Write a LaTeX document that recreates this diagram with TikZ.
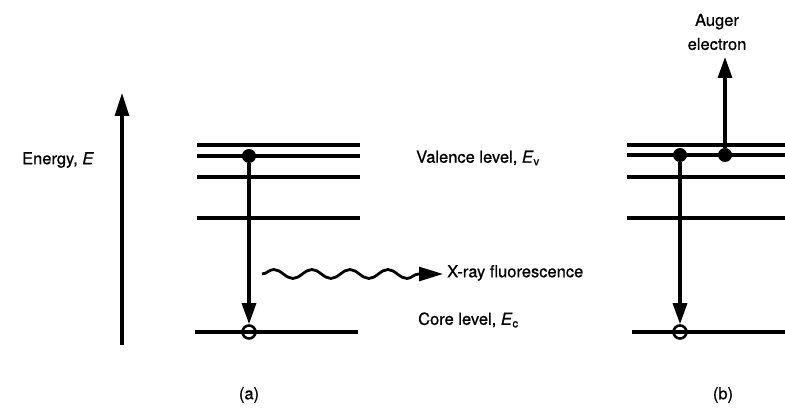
\documentclass[tikz,border=0pt]{standalone}
\usepackage{fontspec}
\setmainfont{TeX Gyre Heros}[FakeBold=0.7]
\usetikzlibrary{arrows.meta,decorations.pathmorphing}
\begin{document}
\begin{tikzpicture}[x=1pt,y=-1pt,
  level/.style={line width=3.2pt},
  trans/.style={line width=3.2pt,-{Triangle[length=21pt,width=14pt]}},
  dot/.style={circle,fill=black,inner sep=0pt,minimum size=14pt},
  hole/.style={circle,draw=black,line width=2.6pt,inner sep=0pt,minimum size=13pt},
  lbl/.style={font=\fontsize{16.5}{24}\selectfont,inner sep=0pt},
  wave/.style={line width=2.8pt,decorate,decoration={snake,amplitude=4.5pt,segment length=38pt}}]
\useasboundingbox (0,0) rectangle (785,419);
% energy axis
\coordinate (e0) at (122,345);
\coordinate (e1) at (122,93);
\draw[line width=3.2pt,-{Triangle[length=23pt,width=14pt]}] (e0) -- (e1);
\node[lbl] (energy) at (58,160) {Energy, \textit{E}};
% panel (a) levels
\draw[level] (197,145) coordinate (a1l) -- (360,145) coordinate (a1r);
\draw[level] (197,156) coordinate (a2l) -- (360,156) coordinate (a2r);
\draw[level] (197,177) coordinate (a3l) -- (360,177) coordinate (a3r);
\draw[level] (197,218) coordinate (a4l) -- (360,218) coordinate (a4r);
\draw[level] (195,332) coordinate (acl) -- (358,332) coordinate (acr);
\node[dot] (adot) at (249,156) {};
\node[hole] (ahole) at (249,332) {};
\draw[trans] (adot) -- (ahole);
% x-ray
\coordinate (w0) at (262,274);
\coordinate (w1) at (420,274);
\coordinate (w2) at (443,274);
\draw[wave] (w0) -- (w1);
\draw[line width=2.8pt,-{Triangle[length=24pt,width=14pt]}] (w1) -- (w2);
\node[lbl,anchor=west] (xray) at (447,273) {X-ray fluorescence};
\node[lbl,anchor=west] (val) at (416,158) {Valence level, \textit{E}\textsubscript{v}};
\node[lbl,anchor=west] (core) at (418,320) {Core level, \textit{E}\textsubscript{c}};
% panel (b)
\draw[level] (627,145) coordinate (b1l) -- (785,145) coordinate (b1r);
\draw[level] (627,155) coordinate (b2l) -- (785,155) coordinate (b2r);
\draw[level] (627,177) coordinate (b3l) -- (785,177) coordinate (b3r);
\draw[level] (627,218) coordinate (b4l) -- (785,218) coordinate (b4r);
\draw[level] (632,332) coordinate (bcl) -- (785,332) coordinate (bcr);
\node[dot] (bdot) at (680,155) {};
\node[dot] (bdot2) at (725,155) {};
\node[hole] (bhole) at (680,332) {};
\draw[trans] (bdot) -- (bhole);
\coordinate (aug) at (725,57);
\draw[trans] (bdot2) -- (aug);
\node[lbl,align=center] (auger) at (717,32) {Auger\\electron};
\node[lbl] (capa) at (249,395) {(a)};
\node[lbl] (capb) at (723,395) {(b)};
\end{tikzpicture}
\end{document}
